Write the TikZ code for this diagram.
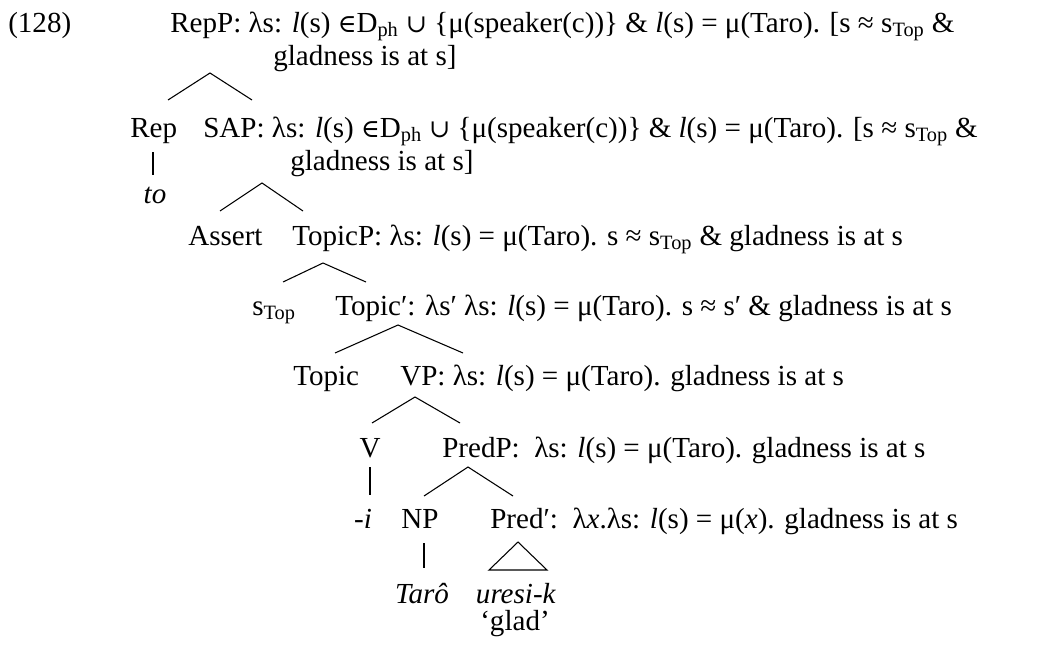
\documentclass[tikz,border=0pt]{standalone}
\usepackage{fontspec}
\setmainfont{Liberation Serif}
\newfontfamily\symf{DejaVu Serif}
\newcommand{\elt}{{\symf\fontsize{19}{22}\selectfont ∈}}
\newcommand{\unn}{{\symf\fontsize{19}{22}\selectfont ∪}}
\newcommand{\sbs}[1]{\textsubscript{#1}}
\tikzset{
  lab/.style={font=\fontsize{21.8}{25}\selectfont, inner sep=0pt, anchor=base west},
  labc/.style={lab, anchor=base},
  br/.style={draw=black, line width=0.8pt},
}
\begin{document}
\begin{tikzpicture}[x=0.75pt,y=-0.75pt]
\useasboundingbox (0,0) rectangle (1044,646);
% texts
\node[lab] (ex) at (8,32) {(128)};
\node[lab] (repP) at (170,32) {RepP: λs: \emph{l}(s) \elt D\sbs{ph} \unn{} \{μ(speaker(c))\} \& \emph{l}(s) = μ(Taro). [s ≈ s\sbs{Top} \&};
\node[lab] (repP2) at (273,65) {gladness is at s]};
\node[lab] (rep) at (130,137) {Rep};
\node[lab] (sap) at (203,137) {SAP: λs: \emph{l}(s) \elt D\sbs{ph} \unn{} \{μ(speaker(c))\} \& \emph{l}(s) = μ(Taro). [s ≈ s\sbs{Top} \&};
\node[lab] (sap2) at (290,170) {gladness is at s]};
\node[labc] (to) at (155,203) {\emph{to}};
\node[lab] (assert) at (188,245) {Assert};
\node[lab] (topicP) at (292,245) {TopicP: λs: \emph{l}(s) = μ(Taro). s ≈ s\sbs{Top} \& gladness is at s};
\node[lab] (stop) at (252,315) {s\sbs{Top}};
\node[lab] (topicb) at (335,315) {Topic′: λs′ λs: \emph{l}(s) = μ(Taro). s ≈ s′ \& gladness is at s};
\node[lab] (topic) at (293,385) {Topic};
\node[lab] (vp) at (400,385) {VP: λs: \emph{l}(s) = μ(Taro). gladness is at s};
\node[labc] (v) at (370,457) {V};
\node[lab] (predP) at (442,457) {PredP:\ \ λs: \emph{l}(s) = μ(Taro). gladness is at s};
\node[labc] (i) at (363,528) {-\emph{i}};
\node[labc] (np) at (420,528) {NP};
\node[lab] (predb) at (490,528) {Pred′:\ \ λ\emph{x}.λs: \emph{l}(s) = μ(\emph{x}). gladness is at s};
\node[labc] (taro) at (422,603) {\emph{Tarô}};
\node[labc] (uresi) at (516,603) {\emph{uresi-k}};
\node[labc] (glad) at (515,630) {‘glad’};
% branch points
\coordinate (a1) at (210,73);  \coordinate (l1) at (168,100); \coordinate (r1) at (252,100);
\coordinate (a2) at (262,183); \coordinate (l2) at (220,211); \coordinate (r2) at (303,211);
\coordinate (a3) at (323,263); \coordinate (l3) at (283,282); \coordinate (r3) at (366,282);
\coordinate (a4) at (398,325); \coordinate (l4) at (335,353); \coordinate (r4) at (463,353);
\coordinate (a5) at (415,397); \coordinate (l5) at (372,423); \coordinate (r5) at (460,423);
\coordinate (a6) at (468,467); \coordinate (l6) at (424,496); \coordinate (r6) at (513,496);
\coordinate (a7) at (518,542); \coordinate (l7) at (489,570); \coordinate (r7) at (547,570);
\coordinate (rt) at (153,152); \coordinate (rb) at (153,175);
\coordinate (vt) at (370,467); \coordinate (vb) at (370,495);
\coordinate (nt) at (424,543); \coordinate (nb) at (424,568);
% branches
\draw[br] (l1) -- (a1) -- (r1);
\draw[br] (l2) -- (a2) -- (r2);
\draw[br] (l3) -- (a3) -- (r3);
\draw[br] (l4) -- (a4) -- (r4);
\draw[br] (l5) -- (a5) -- (r5);
\draw[br] (l6) -- (a6) -- (r6);
\draw[br] (l7) -- (a7) -- (r7) -- cycle;
\draw[br] (rt) -- (rb);
\draw[br] (vt) -- (vb);
\draw[br] (nt) -- (nb);
\end{tikzpicture}
\end{document}
